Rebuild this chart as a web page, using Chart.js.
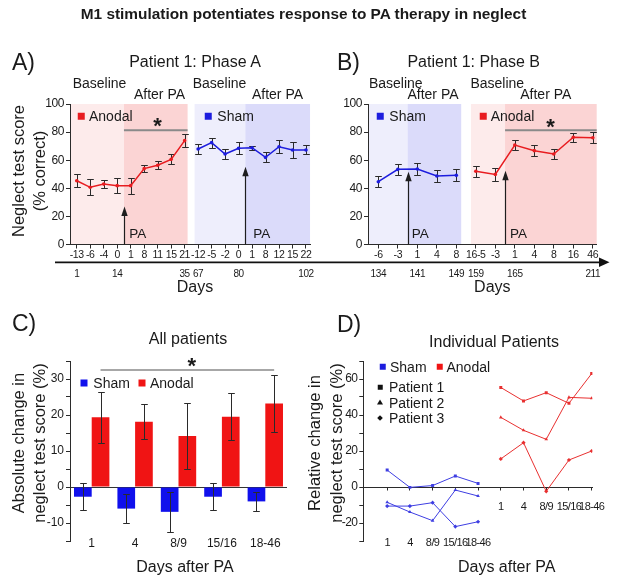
<!DOCTYPE html>
<html><head><meta charset="utf-8">
<script src="https://cdn.jsdelivr.net/npm/chart.js@4.4.1/dist/chart.umd.min.js"></script>
<style>
html,body{margin:0;padding:0;background:#fff;}
#wrap{position:relative;width:617px;height:583px;overflow:hidden;font-family:"Liberation Sans",Arial,sans-serif;color:#1a1a1a;}
.cv{position:absolute;}
.t{position:absolute;white-space:nowrap;line-height:1;transform:translate(-50%,-50%);}
.l{position:absolute;white-space:nowrap;line-height:1;transform:translate(0,-50%);}
.r{position:absolute;white-space:nowrap;line-height:1;transform:translate(-50%,-50%) rotate(-90deg);font-size:16.5px;}
.sq{position:absolute;transform:translate(-50%,-50%);}
.hd{font-size:14px;}
.lg{font-size:14px;}
.pa{font-size:13.5px;}
.star{font-size:22px;font-weight:bold;}
.pl{font-size:23px;}
.st{font-size:16px;}
</style></head><body><div id="wrap">

<canvas id="cA" class="cv" style="left:0;top:90px" width="320" height="196"></canvas>
<canvas id="cB" class="cv" style="left:300px;top:90px" width="317" height="196"></canvas>
<canvas id="cC" class="cv" style="left:0;top:340px" width="300" height="220"></canvas>
<canvas id="cD" class="cv" style="left:300px;top:340px" width="317" height="220"></canvas>

<svg class="cv" style="left:0;top:0" width="617" height="583">
  <line x1="55" y1="262.3" x2="601" y2="262.3" stroke="#111" stroke-width="1.7"/>
  <polygon points="599,257.6 609.5,262.3 599,267" fill="#111"/>
</svg>

<div class="t" style="left:303.5px;top:13.5px;font-size:15.4px;font-weight:bold;">M1 stimulation potentiates response to PA therapy in neglect</div>

<div class="l pl" style="left:12px;top:62px;">A)</div>
<div class="l pl" style="left:337px;top:62px;">B)</div>
<div class="l pl" style="left:12px;top:323px;">C)</div>
<div class="l pl" style="left:337px;top:324px;">D)</div>

<div class="t st" style="left:195px;top:61.5px;">Patient 1: Phase A</div>
<div class="t st" style="left:473.7px;top:61.5px;">Patient 1: Phase B</div>
<div class="t st" style="left:188px;top:338.5px;">All patients</div>
<div class="t st" style="left:494px;top:341.7px;">Individual Patients</div>

<div class="t hd" style="left:99.5px;top:83px;">Baseline</div>
<div class="t hd" style="left:159.5px;top:94px;">After PA</div>
<div class="t hd" style="left:219.5px;top:83px;">Baseline</div>
<div class="t hd" style="left:277.5px;top:94px;">After PA</div>
<div class="t hd" style="left:395.8px;top:83px;">Baseline</div>
<div class="t hd" style="left:433px;top:94px;">After PA</div>
<div class="t hd" style="left:497.3px;top:83px;">Baseline</div>
<div class="t hd" style="left:545.8px;top:94px;">After PA</div>

<div class="sq" style="left:81px;top:116px;width:6.5px;height:6.5px;background:rgb(232,28,32)"></div>
<div class="l lg" style="left:89px;top:115.5px;">Anodal</div>
<div class="sq" style="left:208px;top:116px;width:6.5px;height:6.5px;background:rgb(28,28,222)"></div>
<div class="l lg" style="left:217.3px;top:115.5px;">Sham</div>
<div class="sq" style="left:380.3px;top:116px;width:6.5px;height:6.5px;background:rgb(28,28,222)"></div>
<div class="l lg" style="left:389.3px;top:115.5px;">Sham</div>
<div class="sq" style="left:483px;top:116px;width:6.5px;height:6.5px;background:rgb(232,28,32)"></div>
<div class="l lg" style="left:490.7px;top:115.5px;">Anodal</div>

<div class="sq" style="left:83.7px;top:382.5px;width:7px;height:7px;background:rgb(16,16,236)"></div>
<div class="l lg" style="left:93.3px;top:382.5px;">Sham</div>
<div class="sq" style="left:142px;top:382.5px;width:7px;height:7px;background:rgb(240,20,20)"></div>
<div class="l lg" style="left:150px;top:382.5px;">Anodal</div>

<div class="sq" style="left:382.5px;top:366.5px;width:6.5px;height:6.5px;background:rgb(28,28,222)"></div>
<div class="l lg" style="left:390px;top:366.5px;">Sham</div>
<div class="sq" style="left:439.5px;top:366.5px;width:6.5px;height:6.5px;background:rgb(240,20,20)"></div>
<div class="l lg" style="left:446.5px;top:366.5px;">Anodal</div>
<div class="sq" style="left:380.3px;top:387px;width:4.5px;height:4.5px;background:#111"></div>
<div class="l lg" style="left:389px;top:387px;">Patient 1</div>
<div class="sq" style="left:380.3px;top:401.8px;width:0;height:0;border-left:3.2px solid transparent;border-right:3.2px solid transparent;border-bottom:5.5px solid #111"></div>
<div class="l lg" style="left:389px;top:402.5px;">Patient 2</div>
<div class="sq" style="left:380.3px;top:418px;width:4px;height:4px;background:#111;transform:translate(-50%,-50%) rotate(45deg)"></div>
<div class="l lg" style="left:389px;top:418px;">Patient 3</div>

<div class="l pa" style="left:129.3px;top:234.3px;">PA</div>
<div class="l pa" style="left:253.3px;top:234.3px;">PA</div>
<div class="l pa" style="left:411.7px;top:234.3px;">PA</div>
<div class="l pa" style="left:510px;top:234.3px;">PA</div>

<div class="t star" style="left:157.5px;top:126.2px;">*</div>
<div class="t star" style="left:550.5px;top:127.1px;">*</div>
<div class="t star" style="left:191.7px;top:366.1px;">*</div>

<div class="r" style="left:18.3px;top:170.5px;">Neglect test score</div>
<div class="r" style="left:39.2px;top:170.5px;">(% correct)</div>
<div class="r" style="left:18.3px;top:443px;">Absolute change in</div>
<div class="r" style="left:39px;top:443px;">neglect test score (%)</div>
<div class="r" style="left:313.8px;top:443px;">Relative change in</div>
<div class="r" style="left:336.3px;top:443px;">neglect test score (%)</div>

<div class="t st" style="left:195px;top:286.5px;">Days</div>
<div class="t st" style="left:492.3px;top:286.5px;">Days</div>
<div class="t st" style="left:185px;top:567px;">Days after PA</div>
<div class="t st" style="left:506.7px;top:567px;">Days after PA</div>
</div>

<script>
// ---------- data ----------
const phaseATicks = ['-13','-6','-4','0','1','8','11','15','21','-12','-5','-2','0','1','8','12','15','22'];
const phaseADays  = ['1','','','14','','','','','35','67','','','80','','','','','102'];
const phaseAAnodal    = [45.4, 40.7, 43.0, 41.9, 41.9, 54.0, 56.4, 60.6, 73.9];
const phaseAAnodalErr = [4.6, 5.7, 3.0, 5.2, 5.7, 2.4, 2.8, 3.6, 4.4];
const phaseASham      = [68.0, 72.5, 64.4, 68.5, 68.9, 62.0, 69.6, 67.3, 67.3];
const phaseAShamErr   = [3.4, 3.6, 3.3, 4.2, 1.3, 3.6, 4.6, 5.5, 3.2];

const phaseBTicks = ['-6','-3','1','4','8','16-5','-3','1','4','8','16','46'];
const phaseBDays  = ['134','','141','','149','159','','165','','','','211'];
const phaseBSham      = [44.7, 53.5, 53.7, 48.8, 49.2];
const phaseBShamErr   = [3.8, 4.1, 4.3, 4.0, 4.3];
const phaseBAnodal    = [52.1, 49.9, 70.8, 66.8, 64.4, 76.3, 76.0];
const phaseBAnodalErr = [4.1, 4.5, 3.8, 4.1, 3.3, 3.0, 4.1];

const daysAfterPA = ['1','4','8/9','15/16','18-46'];
const allSham      = [-2.7, -6.0, -6.9, -2.7, -4.0];
const allShamErr   = [3.8, 4.0, 5.5, 3.7, 2.7];
const allAnodal    = [19.4, 18.1, 14.2, 19.5, 23.2];
const allAnodalErr = [7.1, 4.9, 9.1, 6.5, 8.0];

const shamP1 = [9.4, -0.2, 0.8, 6.1, 2.0];
const shamP2 = [-8.5, -13.9, -18.7, -1.7, -5.0];
const shamP3 = [-10.6, -10.6, -8.7, -22.0, -19.3];
const anodalP1 = [55.3, 47.8, 52.4, 46.5, 63.0];
const anodalP2 = [38.7, 31.5, 26.5, 49.8, 49.3];
const anodalP3 = [15.6, 24.6, -2.4, 15.0, 20.0];

// ---------- style ----------
const RED = 'rgb(232,28,32)', BLUE = 'rgb(28,28,222)';
const BAR_RED = 'rgb(240,20,20)', BAR_BLUE = 'rgb(16,16,236)';
const D_RED = 'rgb(232,48,48)', D_BLUE = 'rgb(62,62,226)';
const PINK1 = 'rgb(253,235,235)', PINK2 = 'rgb(251,212,212)';
const LBLUE1 = 'rgb(238,238,252)', LBLUE2 = 'rgb(219,219,250)';
const AX = '#2b2b2b';
const NARROW = '"Liberation Sans Narrow", "Liberation Sans", Arial, sans-serif';
Chart.defaults.font.family = '"Liberation Sans", Arial, sans-serif';
Chart.defaults.color = '#1a1a1a';

function drawErrors(chart){
  const ctx = chart.ctx, y = chart.scales.y;
  chart.data.datasets.forEach((ds, i) => {
    if (!ds.errors) return;
    const meta = chart.getDatasetMeta(i);
    ctx.save(); ctx.strokeStyle = '#2a2a2a'; ctx.lineWidth = 1;
    meta.data.forEach((el, j) => {
      const d = ds.data[j]; const v = (typeof d === 'object') ? d.y : d;
      const e = ds.errors[j]; const x = Math.round(el.x) + 0.5;
      const y1 = Math.round(y.getPixelForValue(v + e)) + 0.5, y2 = Math.round(y.getPixelForValue(v - e)) + 0.5;
      ctx.beginPath();
      ctx.moveTo(x, y1); ctx.lineTo(x, y2);
      ctx.moveTo(x - 3.3, y1); ctx.lineTo(x + 3.3, y1);
      ctx.moveTo(x - 3.3, y2); ctx.lineTo(x + 3.3, y2);
      ctx.stroke();
    });
    ctx.restore();
  });
}

function annotPlugin(cfg){
  return {
    id: 'annot',
    beforeDraw(chart){
      const {ctx, chartArea: ca} = chart; const x = chart.scales.x;
      if (cfg.letterSpacing && 'letterSpacing' in ctx) ctx.letterSpacing = cfg.letterSpacing;
      (cfg.bands || []).forEach(b => {
        const x0 = x.getPixelForValue(b.from), x1 = x.getPixelForValue(b.to);
        ctx.save(); ctx.fillStyle = b.color; ctx.fillRect(x0, ca.top, x1 - x0, ca.bottom - ca.top); ctx.restore();
      });
    },
    beforeDatasetsDraw(chart){ if (!cfg.errOnTop) drawErrors(chart); },
    afterDatasetsDraw(chart){
      if (cfg.errOnTop) drawErrors(chart);
      const ctx = chart.ctx, x = chart.scales.x, y = chart.scales.y;
      (cfg.arrows || []).forEach(a => {
        const px = Math.round(x.getPixelForValue(a.x)) + 0.5;
        const yb = y.getPixelForValue(0), yt = y.getPixelForValue(a.to);
        ctx.save(); ctx.strokeStyle = '#1e1e1e'; ctx.fillStyle = '#1e1e1e'; ctx.lineWidth = 1.2;
        ctx.beginPath(); ctx.moveTo(px, yb); ctx.lineTo(px, yt + 7); ctx.stroke();
        ctx.beginPath(); ctx.moveTo(px, yt); ctx.lineTo(px - 3.2, yt + 9.5); ctx.lineTo(px + 3.2, yt + 9.5); ctx.closePath(); ctx.fill();
        ctx.restore();
      });
      (cfg.starBars || []).forEach(sb => {
        let x0, x1;
        if (sb.dataset != null) { const m = chart.getDatasetMeta(sb.dataset); x0 = m.data[sb.from].x; x1 = m.data[sb.to].x; }
        else { x0 = x.getPixelForValue(sb.from); x1 = x.getPixelForValue(sb.to); }
        const py = y.getPixelForValue(sb.y);
        ctx.save(); ctx.strokeStyle = 'rgb(138,138,138)'; ctx.lineWidth = sb.width || 2;
        ctx.beginPath(); ctx.moveTo(x0, py); ctx.lineTo(x1, py); ctx.stroke(); ctx.restore();
      });
    }
  };
}

function yAxis(min, max, step, labelEvery, width, tl){
  return {
    type: 'linear', position: 'left', min, max, bounds: 'data',
    afterFit: s => { s.width = width; },
    afterBuildTicks: s => { const t = []; for (let v = min; v <= max + 1e-9; v += step) t.push({value: v}); s.ticks = t; },
    ticks: { font: {family: NARROW, size: 12}, color: '#1a1a1a', padding: 2,
      callback: v => (Math.abs(v % labelEvery) < 1e-9 ? String(v) : '') },
    grid: { display: true, drawOnChartArea: false, drawTicks: true, tickLength: tl || 4, color: AX, tickColor: AX },
    border: { display: true, color: AX, width: 1 }
  };
}

function idxData(values, offset){ return values.map((v, i) => ({x: offset + i, y: v})); }

function lineSet(values, errors, offset, color){
  return { data: idxData(values, offset), errors, borderColor: color, backgroundColor: color,
    borderWidth: 1.5, pointRadius: 1.8, pointBorderWidth: 0, pointHoverRadius: 0, tension: 0, xAxisID: 'x', yAxisID: 'y' };
}

function timelineChart(id, tickLabels, dayLabels, datasets, xmin, xmax, yWidth, padRight, annot){
  return new Chart(document.getElementById(id), {
    type: 'line',
    data: { datasets },
    options: {
      responsive: false, animation: false, events: [],
      layout: { padding: { top: 14, right: padRight, bottom: 0, left: 0 } },
      plugins: { legend: {display: false}, tooltip: {enabled: false} },
      scales: {
        x: { type: 'linear', position: 'bottom', min: xmin, max: xmax, bounds: 'data', weight: 0,
          afterFit: s => { s.height = 18; },
          afterBuildTicks: s => { s.ticks = tickLabels.map((_, i) => ({value: i})); },
          ticks: { autoSkip: false, maxRotation: 0, minRotation: 0, padding: 0,
            font: {family: NARROW, size: 10.5}, color: '#1a1a1a', callback: v => tickLabels[v] },
          grid: { display: true, drawOnChartArea: false, drawTicks: true, tickLength: 4, color: AX, tickColor: AX },
          border: { display: true, color: AX, width: 1 } },
        xd: { type: 'linear', position: 'bottom', min: xmin, max: xmax, bounds: 'data', weight: 1,
          afterFit: s => { s.height = 23.5; },
          afterBuildTicks: s => { s.ticks = dayLabels.map((_, i) => ({value: i})); },
          ticks: { autoSkip: false, maxRotation: 0, minRotation: 0, padding: 5.5,
            font: {size: 10}, color: '#1a1a1a', callback: v => dayLabels[v] },
          grid: { display: false, drawTicks: false }, border: { display: false } },
        y: yAxis(0, 100, 10, 20, yWidth, 4)
      }
    },
    plugins: [annotPlugin(annot)]
  });
}

// ---------- Panel A ----------
timelineChart('cA', phaseATicks, phaseADays,
  [ lineSet(phaseAAnodal, phaseAAnodalErr, 0, RED), lineSet(phaseASham, phaseAShamErr, 9, BLUE) ],
  -0.5, 17.3, 70, 8,
  { letterSpacing: '-0.4px',
    bands: [ {from: -0.5, to: 3.5, color: PINK1}, {from: 3.5, to: 8.22, color: PINK2},
             {from: 8.74, to: 12.5, color: LBLUE1}, {from: 12.5, to: 17.3, color: LBLUE2} ],
    arrows: [ {x: 3.5, to: 27}, {x: 12.5, to: 55.4} ],
    starBars: [ {from: 3.5, to: 8.22, y: 81.4} ] });

// ---------- Panel B ----------
timelineChart('cB', phaseBTicks, phaseBDays,
  [ lineSet(phaseBSham, phaseBShamErr, 0, BLUE), lineSet(phaseBAnodal, phaseBAnodalErr, 5, RED) ],
  -0.53, 11.2, 68, 20.3,
  { letterSpacing: '-0.4px',
    bands: [ {from: -0.53, to: 1.5, color: LBLUE1}, {from: 1.5, to: 4.25, color: LBLUE2},
             {from: 4.75, to: 6.5, color: PINK1}, {from: 6.5, to: 11.2, color: PINK2} ],
    arrows: [ {x: 1.5, to: 51.8}, {x: 6.5, to: 52.5} ],
    starBars: [ {from: 6.5, to: 11.2, y: 81.4} ] });

// ---------- Panel C ----------
new Chart(document.getElementById('cC'), {
  type: 'bar',
  data: { labels: daysAfterPA, datasets: [
    { data: allSham, errors: allShamErr, backgroundColor: BAR_BLUE, barPercentage: 1, categoryPercentage: 0.815 },
    { data: allAnodal, errors: allAnodalErr, backgroundColor: BAR_RED, barPercentage: 1, categoryPercentage: 0.815 } ] },
  options: {
    responsive: false, animation: false, events: [],
    layout: { padding: { top: 21, right: 13, bottom: 19, left: 0 } },
    plugins: { legend: {display: false}, tooltip: {enabled: false} },
    scales: {
      x: { type: 'category', position: {y: -15}, offset: true,
        ticks: { autoSkip: false, maxRotation: 0, minRotation: 0, padding: -4.7, font: {size: 12}, color: '#1a1a1a' },
        grid: { display: false, drawTicks: false }, border: { display: false } },
      y: Object.assign(yAxis(-15, 35, 5, 10, 70, 4), {
        grid: { display: true, drawOnChartArea: true, drawTicks: true, tickLength: 4, tickColor: AX,
          color: c => (c.tick && c.tick.value === 0 ? '#333' : 'rgba(0,0,0,0)') } })
    }
  },
  plugins: [annotPlugin({ errOnTop: true, starBars: [ {dataset: 1, from: 0, to: 4, y: 32.5, width: 1.6} ] })]
});

// ---------- Panel D ----------
function dSet(values, offset, color, style){
  return { data: idxData(values, offset), borderColor: color, backgroundColor: color, borderWidth: 1,
    pointStyle: style, pointRadius: 2.1, pointBorderWidth: 0, pointHoverRadius: 0, tension: 0, xAxisID: 'x', yAxisID: 'y' };
}
new Chart(document.getElementById('cD'), {
  type: 'line',
  data: { datasets: [
    dSet(shamP1, 0, D_BLUE, 'rect'), dSet(shamP2, 0, D_BLUE, 'triangle'), dSet(shamP3, 0, D_BLUE, 'rectRot'),
    dSet(anodalP1, 5, D_RED, 'rect'), dSet(anodalP2, 5, D_RED, 'triangle'), dSet(anodalP3, 5, D_RED, 'rectRot') ] },
  options: {
    responsive: false, animation: false, events: [],
    layout: { padding: { top: 21, right: 19, bottom: 19, left: 0 } },
    plugins: { legend: {display: false}, tooltip: {enabled: false} },
    scales: {
      x: { type: 'linear', position: {y: 0}, min: -1.05, max: 9.03, bounds: 'data',
        afterBuildTicks: s => { s.ticks = daysAfterPA.concat(daysAfterPA).map((_, i) => ({value: i})); },
        ticks: { autoSkip: false, maxRotation: 0, minRotation: 0, padding: 11.2, font: {family: NARROW, size: 11}, color: '#1a1a1a',
          callback: v => (v >= 5 ? daysAfterPA[v - 5] : '') },
        grid: { display: true, drawOnChartArea: false, drawTicks: true, tickLength: 2.5, color: AX, tickColor: AX },
        border: { display: true, color: AX, width: 1 } },
      xs: { type: 'linear', position: {y: -30}, min: -1.05, max: 9.03, bounds: 'data',
        afterBuildTicks: s => { s.ticks = daysAfterPA.map((_, i) => ({value: i})); },
        ticks: { autoSkip: false, maxRotation: 0, minRotation: 0, padding: -4.3, font: {family: NARROW, size: 11}, color: '#1a1a1a',
          callback: v => daysAfterPA[v] },
        grid: { display: false, drawTicks: false }, border: { display: false } },
      y: yAxis(-30, 70, 10, 20, 63.3, 4)
    }
  },
  plugins: [annotPlugin({ letterSpacing: '-0.6px' })]
});
</script>
</body></html>
